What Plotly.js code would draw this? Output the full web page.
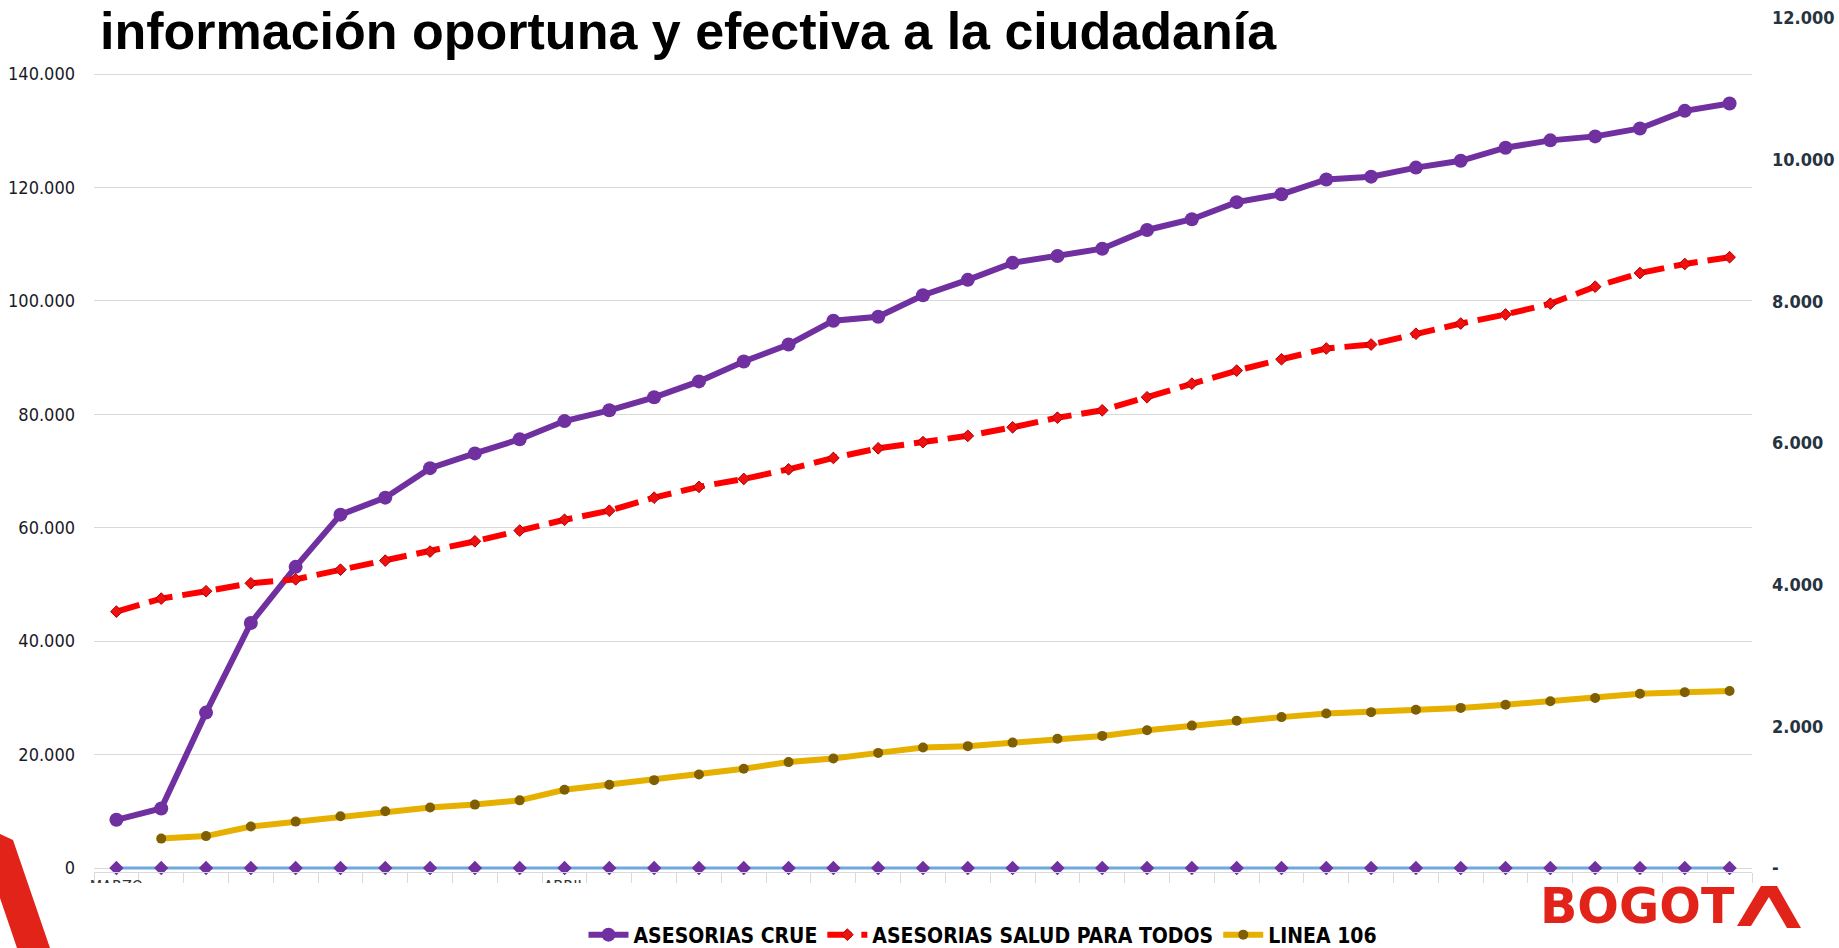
<!DOCTYPE html>
<html>
<head>
<meta charset="utf-8">
<script src="https://cdn.plot.ly/plotly-3.0.1.min.js"></script>
<style>html,body{margin:0;padding:0;background:#fff;}#chart{width:1839px;height:948px;}</style>
</head>
<body>
<div id="chart"></div>
<script>
// ---- data ----
const fechas = ["2020-03-22","2020-03-23","2020-03-24","2020-03-25","2020-03-26","2020-03-27","2020-03-28","2020-03-29","2020-03-30","2020-03-31",
  "2020-04-01","2020-04-02","2020-04-03","2020-04-04","2020-04-05","2020-04-06","2020-04-07","2020-04-08","2020-04-09","2020-04-10",
  "2020-04-11","2020-04-12","2020-04-13","2020-04-14","2020-04-15","2020-04-16","2020-04-17","2020-04-18","2020-04-19","2020-04-20",
  "2020-04-21","2020-04-22","2020-04-23","2020-04-24","2020-04-25","2020-04-26","2020-04-27"];
const asesoriasCrue = [8500,10500,27400,43200,53100,62300,65300,70500,73100,75600,78800,80700,83000,85800,89300,92300,96500,97200,101000,103700,
  106700,107900,109200,112500,114400,117400,118800,121400,121900,123500,124700,127000,128300,129000,130400,133500,134800];
const asesoriasSalud = [45200,47500,48800,50200,50900,52600,54200,55800,57600,59500,61400,63000,65300,67200,68600,70300,72300,74000,75100,76200,
  77700,79400,80700,83000,85400,87700,89700,91600,92300,94200,96000,97600,99500,102500,104900,106500,107700];
const linea106 = [null,415,450,585,655,730,800,855,895,955,1105,1175,1240,1320,1400,1495,1545,1625,1700,1720,
  1770,1825,1865,1945,2010,2080,2130,2180,2200,2235,2260,2305,2355,2400,2460,2480,2500];
const serieCero = [0,0,0,0,0,0,0,0,0,0,0,0,0,0,0,0,0,0,0,0,0,0,0,0,0,0,0,0,0,0,0,0,0,0,0,0,0];
const etiquetasMesFechas = ["2020-03-22","2020-04-01"];
const etiquetasMes = ["MARZO","ABRIL"];
const ticksIzq = [0,20000,40000,60000,80000,100000,120000,140000];
const ticksDer = [0,2000,4000,6000,8000,10000,12000];
const ticksDerTexto = ["-","2.000","4.000","6.000","8.000","10.000","12.000"];
const titulo = "información oportuna y efectiva a la ciudadanía";
const nombres = ["ASESORIAS CRUE","ASESORIAS SALUD PARA TODOS","LINEA 106"];

// ---- helpers for decorative shapes (pixel -> paper) ----
const W = 1839, H = 948, ML = 94, MR = 87, MT = 18, MB = 76;
const PW = W - ML - MR, PH = H - MT - MB;
const px = x => (x - ML) / PW;
const py = y => (H - MB - y) / PH;
const path = pts => 'M' + pts.map(p => px(p[0]).toFixed(5) + ',' + py(p[1]).toFixed(5)).join(' L') + ' Z';

const narrow = "DejaVu Sans Condensed, Liberation Sans Narrow, sans-serif";

const traces = [
  {x: fechas, y: serieCero, type: 'scatter', mode: 'lines+markers', yaxis: 'y2', showlegend: false, cliponaxis: false,
   line: {color: '#6FA8DC', width: 3}, marker: {symbol: 'diamond', size: 11, color: '#7030A0'}, hoverinfo: 'skip'},
  {x: fechas, y: asesoriasCrue, type: 'scatter', mode: 'lines+markers', name: nombres[0],
   line: {color: '#7030A0', width: 6}, marker: {symbol: 'circle', size: 14, color: '#7030A0'}},
  {x: fechas, y: asesoriasSalud, type: 'scatter', mode: 'lines+markers', name: nombres[1],
   line: {color: '#FF0000', width: 6, dash: '24px,10px'},
   marker: {symbol: 'diamond', size: 9, color: '#F01010', line: {color: '#B00000', width: 1}}},
  {x: fechas, y: linea106, type: 'scatter', mode: 'lines+markers', name: nombres[2], yaxis: 'y2',
   line: {color: '#E5B000', width: 6}, marker: {symbol: 'circle', size: 10, color: '#7F5F00'}}
];

const layout = {
  width: W, height: H,
  margin: {l: ML, r: MR, t: MT, b: MB, pad: 0},
  paper_bgcolor: '#fff', plot_bgcolor: '#fff',
  separators: ',.',
  showlegend: true,
  title: {text: titulo, xref: 'container', yref: 'container', x: 100 / W, xanchor: 'left', y: 1 - 31 / H, yanchor: 'middle',
    font: {family: 'Liberation Sans, Arial, sans-serif', size: 52, color: '#000', weight: 'bold'}},
  xaxis: {type: 'date', range: ['2020-03-21 12:00', '2020-04-27 12:00'],
    tickmode: 'array', tickvals: etiquetasMesFechas, ticktext: etiquetasMes, ticks: '',
    ticklabelstandoff: 0,
    tickfont: {family: narrow, size: 16, color: '#333'},
    showgrid: false, zeroline: false, showline: true, linecolor: '#d9d9d9', linewidth: 1,
    minor: {tick0: '2020-03-21 12:00', dtick: 86400000, ticks: 'outside', ticklen: 10, tickcolor: '#d9d9d9', tickwidth: 1, showgrid: false}},
  yaxis: {range: [-705, 149874], tickmode: 'array', tickvals: ticksIzq, tickformat: ',d', ticks: '',
    showgrid: true, gridcolor: '#d9d9d9', gridwidth: 1, zeroline: false, showline: false,
    ticklabelstandoff: 18,
    tickfont: {family: narrow, size: 18, color: '#1a1a26'}},
  yaxis2: {overlaying: 'y', side: 'right', range: [-56.5, 12000], tickmode: 'array', tickvals: ticksDer, ticktext: ticksDerTexto,
    ticks: '', showgrid: false, zeroline: false, showline: false, ticklabelstandoff: 19,
    tickfont: {family: narrow, size: 18, color: '#263340', weight: 'bold'}},
  legend: {orientation: 'h', xref: 'container', yref: 'container', x: 983 / W, xanchor: 'center', y: 1 - 935 / H, yanchor: 'middle',
    font: {family: narrow, size: 21, color: '#000', weight: 'bold'}, itemwidth: 40, tracegroupgap: 0, bgcolor: 'rgba(0,0,0,0)'},
  shapes: [
    {type: 'rect', xref: 'paper', yref: 'paper', x0: px(60), x1: px(W), y0: py(883), y1: py(H + 5), layer: 'above',
     fillcolor: '#fff', line: {width: 0}},
    {type: 'path', xref: 'paper', yref: 'paper', layer: 'above', path: path([[0, 834], [13, 840], [50, 948], [17, 948], [0, 898]]),
     fillcolor: '#E2231A', line: {width: 0}},
    {type: 'path', xref: 'paper', yref: 'paper', layer: 'above',
     path: path([[1737, 926], [1761, 886], [1777, 886], [1801, 928], [1787, 928], [1769, 897], [1751, 926]]),
     fillcolor: '#E2231A', line: {width: 0}}
  ],
  annotations: [
    {xref: 'paper', yref: 'paper', x: px(1538), xanchor: 'left', y: py(906), yanchor: 'middle', showarrow: false,
     text: 'BOGOT', font: {family: 'DejaVu Sans, sans-serif', size: 49, color: '#E2231A', weight: 'bold'}}
  ]
};

Plotly.newPlot('chart', traces, layout, {displayModeBar: false, staticPlot: true});
</script>
</body>
</html>
